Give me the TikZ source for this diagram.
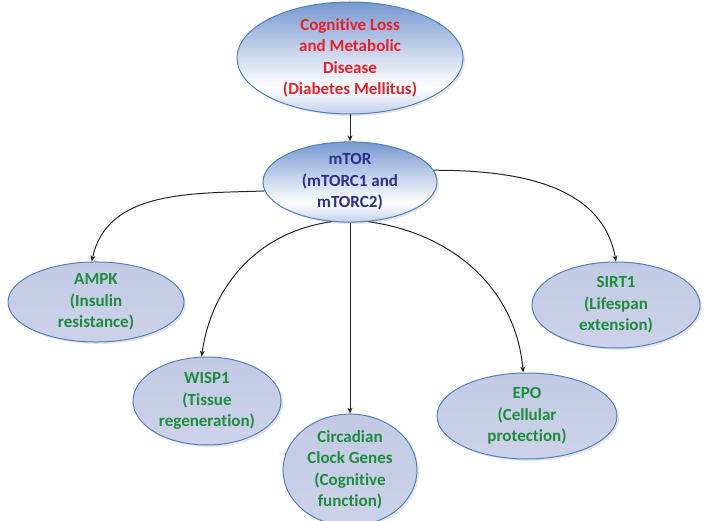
\documentclass[tikz,border=0pt]{standalone}
\usepackage{fontspec}
\setmainfont{Carlito}[Ligatures=NoCommon]
\usetikzlibrary{shapes.geometric,shadows,arrows.meta}
\definecolor{rimblue}{HTML}{4F81BD}
\definecolor{topblue}{HTML}{7898D0}
\definecolor{lowblue}{HTML}{C2D0EA}
\definecolor{paleblue}{HTML}{C3CAE5}
\definecolor{txtred}{HTML}{E8202A}
\definecolor{txtnavy}{HTML}{2B2E8C}
\definecolor{txtgreen}{HTML}{1E8C3A}
\pgfdeclareverticalshading{headfade}{100bp}{color(0bp)=(lowblue); color(25bp)=(lowblue);
  color(37bp)=(white); color(75bp)=(topblue); color(100bp)=(topblue)}

\begin{document}
\begin{tikzpicture}[x=1pt,y=-1pt,join=round] % mTOR and its targets
  \tikzset{
    blob/.style={ellipse,draw=rimblue,line width=1pt,inner sep=0pt,align=center,
      font=\bfseries\fontsize{17}{21.5}\selectfont,
      drop shadow={opacity=0.2,shadow xshift=2pt,shadow yshift=-2pt}},
    headblob/.style={blob,shading=headfade},
    leafblob/.style={blob,top color=paleblue,bottom color=paleblue!85!white,text=txtgreen},
    link/.style={draw=black!85,line width=1pt,-{Stealth[length=6pt,width=5pt]}}
  }
  \useasboundingbox (0,0) rectangle (704,521);
  \node[headblob,text=txtred,minimum width=226pt,minimum height=112pt] (disease) at (350,58)
    {Cognitive Loss\\and Metabolic\\Disease\\(Diabetes Mellitus)};
  \node[headblob,text=txtnavy,minimum width=174pt,minimum height=80pt] (mtor) at (350,182)
    {mTOR\\(mTORC1 and\\mTORC2)};
  \node[leafblob,minimum width=176pt,minimum height=76pt] (ampk) at (96,302)
    {AMPK\\(Insulin\\resistance)};
  \node[leafblob,minimum width=168pt,minimum height=86pt] (sirt) at (616,305)
    {SIRT1\\(Lifespan\\extension)};
  \node[leafblob,minimum width=148pt,minimum height=88pt] (wisp) at (207,401)
    {WISP1\\(Tissue\\regeneration)};
  \node[leafblob,minimum width=180pt,minimum height=86pt] (epo) at (527,416)
    {EPO\\(Cellular\\protection)};
  \node[leafblob,minimum width=134pt,minimum height=98pt] (clock) at (350,470)
    {Circadian\\Clock Genes\\(Cognitive\\function)};
  \draw[link] (disease) -- (mtor);
  \draw[link] (mtor.186) to[out=182,in=78] (ampk.96);
  \draw[link] (mtor.8) to[out=0,in=100] (sirt.north);
  \draw[link] (mtor.245) to[out=188,in=82] (wisp.97);
  \draw[link] (mtor.295) to[out=-8,in=95] (epo.95);
  \draw[link] (mtor) -- (clock);
\end{tikzpicture}
\end{document}
